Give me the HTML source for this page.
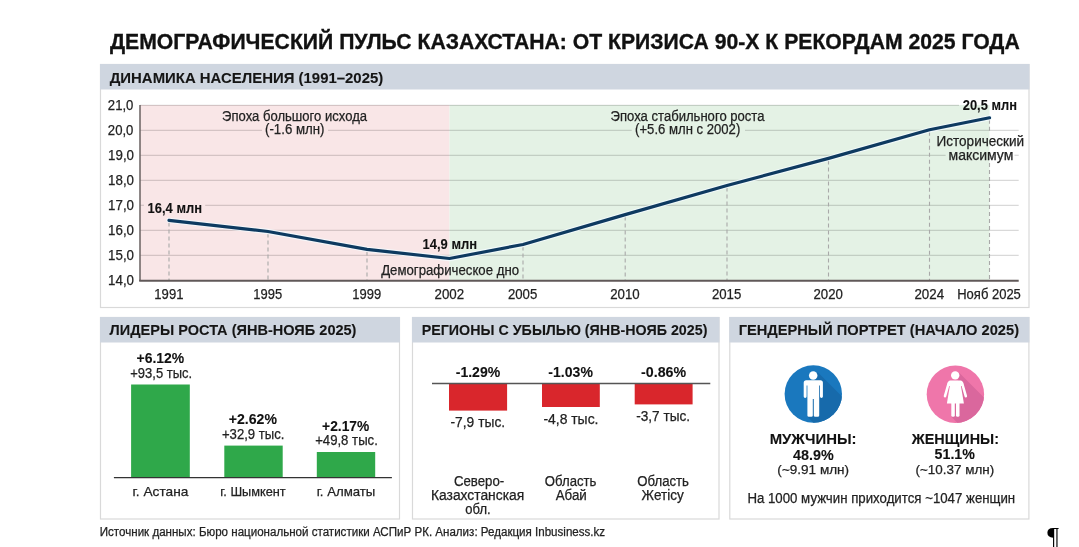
<!DOCTYPE html>
<html><head><meta charset="utf-8"><style>
html,body{margin:0;padding:0;background:#fff;}
body{width:1079px;height:547px;overflow:hidden;}
svg{display:block;filter:blur(0.4px);font-family:"Liberation Sans",sans-serif;}
</style></head><body>
<svg width="1079" height="547" viewBox="0 0 1079 547">
<rect width="1079" height="547" fill="#fff"/>
<rect x="100.5" y="64.5" width="928.5" height="243" fill="#fff" stroke="#d9d9d9" stroke-width="1.2"/>
<rect x="100" y="64" width="929.5" height="25.5" fill="#cfd6e0"/>
<rect x="100.5" y="317.5" width="299" height="201.5" fill="#fff" stroke="#d9d9d9" stroke-width="1.2"/>
<rect x="100" y="317" width="300" height="25.5" fill="#cfd6e0"/>
<rect x="412.5" y="317.5" width="306.5" height="201.5" fill="#fff" stroke="#d9d9d9" stroke-width="1.2"/>
<rect x="412" y="317" width="307.5" height="25.5" fill="#cfd6e0"/>
<rect x="729.8" y="317.5" width="299.10000000000014" height="201.5" fill="#fff" stroke="#d9d9d9" stroke-width="1.2"/>
<rect x="729.3" y="317" width="300.10000000000014" height="25.5" fill="#cfd6e0"/>
<rect x="140" y="105" width="309.5" height="175" fill="#f9e6e7"/>
<rect x="449.5" y="105" width="540.0" height="175" fill="#e4f2e5"/>
<line x1="140" y1="105.3" x2="959" y2="105.3" stroke="#000" stroke-opacity="0.15" stroke-width="1.3"/>
<line x1="140" y1="130.3" x2="262" y2="130.3" stroke="#000" stroke-opacity="0.15" stroke-width="1.3"/>
<line x1="328" y1="130.3" x2="631.7" y2="130.3" stroke="#000" stroke-opacity="0.15" stroke-width="1.3"/>
<line x1="745" y1="130.3" x2="1018.7" y2="130.3" stroke="#000" stroke-opacity="0.15" stroke-width="1.3"/>
<line x1="140" y1="155.3" x2="945.6" y2="155.3" stroke="#000" stroke-opacity="0.15" stroke-width="1.3"/>
<line x1="1014.5" y1="155.3" x2="1018.7" y2="155.3" stroke="#000" stroke-opacity="0.15" stroke-width="1.3"/>
<line x1="140" y1="180.3" x2="1018.7" y2="180.3" stroke="#000" stroke-opacity="0.15" stroke-width="1.3"/>
<line x1="140" y1="205.3" x2="144" y2="205.3" stroke="#000" stroke-opacity="0.15" stroke-width="1.3"/>
<line x1="205.2" y1="205.3" x2="1018.7" y2="205.3" stroke="#000" stroke-opacity="0.15" stroke-width="1.3"/>
<line x1="140" y1="230.3" x2="1018.7" y2="230.3" stroke="#000" stroke-opacity="0.15" stroke-width="1.3"/>
<line x1="140" y1="255.3" x2="1018.7" y2="255.3" stroke="#000" stroke-opacity="0.15" stroke-width="1.3"/>
<line x1="169" y1="222.4" x2="169" y2="280" stroke="#a9a9a9" stroke-width="1.1" stroke-dasharray="4,3"/>
<line x1="268" y1="233.5" x2="268" y2="280" stroke="#a9a9a9" stroke-width="1.1" stroke-dasharray="4,3"/>
<line x1="367" y1="251.4" x2="367" y2="280" stroke="#a9a9a9" stroke-width="1.1" stroke-dasharray="4,3"/>
<line x1="523" y1="246.5" x2="523" y2="280" stroke="#a9a9a9" stroke-width="1.1" stroke-dasharray="4,3"/>
<line x1="625.2" y1="216.6" x2="625.2" y2="280" stroke="#a9a9a9" stroke-width="1.1" stroke-dasharray="4,3"/>
<line x1="727" y1="187.5" x2="727" y2="280" stroke="#a9a9a9" stroke-width="1.1" stroke-dasharray="4,3"/>
<line x1="828.5" y1="160.4" x2="828.5" y2="280" stroke="#a9a9a9" stroke-width="1.1" stroke-dasharray="4,3"/>
<line x1="929.5" y1="131.8" x2="929.5" y2="280" stroke="#a9a9a9" stroke-width="1.1" stroke-dasharray="4,3"/>
<line x1="989.5" y1="119.8" x2="989.5" y2="133" stroke="#a9a9a9" stroke-width="1.1" stroke-dasharray="4,3"/>
<line x1="989.5" y1="163" x2="989.5" y2="280" stroke="#a9a9a9" stroke-width="1.1" stroke-dasharray="4,3"/>
<line x1="140" y1="105" x2="140" y2="281" stroke="#686060" stroke-width="1.5"/>
<line x1="139.2" y1="280.8" x2="1018.7" y2="280.8" stroke="#605858" stroke-width="2"/>
<polyline points="169,220.4 268,231.5 367,249.4 449.5,258.5 523,244.5 625.2,214.6 727,185.5 828.5,158.4 929.5,129.8 989.5,117.8" fill="none" stroke="#f4fbff" stroke-opacity="0.8" stroke-width="5.4" stroke-linejoin="round" stroke-linecap="round"/>
<polyline points="169,220.4 268,231.5 367,249.4 449.5,258.5 523,244.5 625.2,214.6 727,185.5 828.5,158.4 929.5,129.8 989.5,117.8" fill="none" stroke="#0e3a60" stroke-width="3.2" stroke-linejoin="round" stroke-linecap="round"/>
<text id="t0" x="109.96" y="49.00" font-size="22.67" font-weight="bold" fill="#111" stroke="#111" stroke-width="0.35" textLength="909.80" lengthAdjust="spacingAndGlyphs">ДЕМОГРАФИЧЕСКИЙ ПУЛЬС КАЗАХСТАНА: ОТ КРИЗИСА 90-Х К РЕКОРДАМ 2025 ГОДА</text>
<text id="t1" x="109.72" y="82.80" font-size="15.55" font-weight="bold" fill="#151515" stroke="#151515" stroke-width="0.1" textLength="273.50" lengthAdjust="spacingAndGlyphs">ДИНАМИКА НАСЕЛЕНИЯ (1991–2025)</text>
<text id="t2" x="107.87" y="110.30" font-size="13.95" font-weight="normal" fill="#222" stroke="#222" stroke-width="0.25" textLength="25.54" lengthAdjust="spacingAndGlyphs">21,0</text>
<text id="t3" x="107.87" y="135.30" font-size="13.95" font-weight="normal" fill="#222" stroke="#222" stroke-width="0.25" textLength="25.54" lengthAdjust="spacingAndGlyphs">20,0</text>
<text id="t4" x="108.08" y="160.30" font-size="13.95" font-weight="normal" fill="#222" stroke="#222" stroke-width="0.25" textLength="25.91" lengthAdjust="spacingAndGlyphs">19,0</text>
<text id="t5" x="108.08" y="185.30" font-size="13.95" font-weight="normal" fill="#222" stroke="#222" stroke-width="0.25" textLength="25.91" lengthAdjust="spacingAndGlyphs">18,0</text>
<text id="t6" x="108.08" y="210.30" font-size="13.95" font-weight="normal" fill="#222" stroke="#222" stroke-width="0.25" textLength="25.91" lengthAdjust="spacingAndGlyphs">17,0</text>
<text id="t7" x="108.08" y="235.30" font-size="13.95" font-weight="normal" fill="#222" stroke="#222" stroke-width="0.25" textLength="25.91" lengthAdjust="spacingAndGlyphs">16,0</text>
<text id="t8" x="108.08" y="260.30" font-size="13.95" font-weight="normal" fill="#222" stroke="#222" stroke-width="0.25" textLength="25.91" lengthAdjust="spacingAndGlyphs">15,0</text>
<text id="t9" x="108.08" y="285.30" font-size="13.95" font-weight="normal" fill="#222" stroke="#222" stroke-width="0.25" textLength="25.91" lengthAdjust="spacingAndGlyphs">14,0</text>
<text id="t10" x="154.36" y="298.80" font-size="14.39" font-weight="normal" fill="#222" stroke="#222" stroke-width="0.25" textLength="29.05" lengthAdjust="spacingAndGlyphs">1991</text>
<text id="t11" x="253.36" y="298.80" font-size="14.39" font-weight="normal" fill="#222" stroke="#222" stroke-width="0.25" textLength="28.84" lengthAdjust="spacingAndGlyphs">1995</text>
<text id="t12" x="352.36" y="298.80" font-size="14.39" font-weight="normal" fill="#222" stroke="#222" stroke-width="0.25" textLength="28.83" lengthAdjust="spacingAndGlyphs">1999</text>
<text id="t13" x="434.55" y="298.80" font-size="14.39" font-weight="normal" fill="#222" stroke="#222" stroke-width="0.25" textLength="29.62" lengthAdjust="spacingAndGlyphs">2002</text>
<text id="t14" x="507.94" y="298.80" font-size="14.39" font-weight="normal" fill="#222" stroke="#222" stroke-width="0.25" textLength="29.36" lengthAdjust="spacingAndGlyphs">2005</text>
<text id="t15" x="610.23" y="298.80" font-size="14.39" font-weight="normal" fill="#222" stroke="#222" stroke-width="0.25" textLength="29.53" lengthAdjust="spacingAndGlyphs">2010</text>
<text id="t16" x="711.94" y="298.80" font-size="14.39" font-weight="normal" fill="#222" stroke="#222" stroke-width="0.25" textLength="29.36" lengthAdjust="spacingAndGlyphs">2015</text>
<text id="t17" x="813.47" y="298.80" font-size="14.39" font-weight="normal" fill="#222" stroke="#222" stroke-width="0.25" textLength="29.37" lengthAdjust="spacingAndGlyphs">2020</text>
<text id="t18" x="914.45" y="298.80" font-size="14.39" font-weight="normal" fill="#222" stroke="#222" stroke-width="0.25" textLength="29.71" lengthAdjust="spacingAndGlyphs">2024</text>
<text id="t19" x="957.23" y="298.80" font-size="14.39" font-weight="normal" fill="#222" stroke="#222" stroke-width="0.25" textLength="63.64" lengthAdjust="spacingAndGlyphs">Нояб 2025</text>
<text id="t20" x="147.58" y="212.80" font-size="14.83" font-weight="bold" fill="#111" stroke="#111" stroke-width="0.1" textLength="54.49" lengthAdjust="spacingAndGlyphs">16,4 млн</text>
<text id="t21" x="422.50" y="248.50" font-size="14.54" font-weight="bold" fill="#111" stroke="#111" stroke-width="0.1" textLength="54.63" lengthAdjust="spacingAndGlyphs">14,9 млн</text>
<text id="t22" x="962.80" y="110.00" font-size="14.54" font-weight="bold" fill="#111" stroke="#111" stroke-width="0.1" textLength="54.14" lengthAdjust="spacingAndGlyphs">20,5 млн</text>
<text id="t23" x="222.08" y="120.50" font-size="14.24" font-weight="normal" fill="#222" stroke="#222" stroke-width="0.25" textLength="145.02" lengthAdjust="spacingAndGlyphs">Эпоха большого исхода</text>
<text id="t24" x="265.06" y="134.30" font-size="14.24" font-weight="normal" fill="#222" stroke="#222" stroke-width="0.25" textLength="59.47" lengthAdjust="spacingAndGlyphs">(-1.6 млн)</text>
<text id="t25" x="610.62" y="120.50" font-size="14.24" font-weight="normal" fill="#222" stroke="#222" stroke-width="0.25" textLength="153.87" lengthAdjust="spacingAndGlyphs">Эпоха стабильного роста</text>
<text id="t26" x="635.07" y="134.30" font-size="14.24" font-weight="normal" fill="#222" stroke="#222" stroke-width="0.25" textLength="105.20" lengthAdjust="spacingAndGlyphs">(+5.6 млн с 2002)</text>
<text id="t27" x="936.50" y="145.60" font-size="14.24" font-weight="normal" fill="#222" stroke="#222" stroke-width="0.25" textLength="87.67" lengthAdjust="spacingAndGlyphs">Исторический</text>
<text id="t28" x="948.51" y="159.70" font-size="14.24" font-weight="normal" fill="#222" stroke="#222" stroke-width="0.25" textLength="64.87" lengthAdjust="spacingAndGlyphs">максимум</text>
<text id="t29" x="381.16" y="274.50" font-size="14.24" font-weight="normal" fill="#222" stroke="#222" stroke-width="0.25" textLength="137.88" lengthAdjust="spacingAndGlyphs">Демографическое дно</text>
<text id="t30" x="109.57" y="335.30" font-size="15.26" font-weight="bold" fill="#151515" stroke="#151515" stroke-width="0.1" textLength="246.91" lengthAdjust="spacingAndGlyphs">ЛИДЕРЫ РОСТА (ЯНВ-НОЯБ 2025)</text>
<text id="t31" x="421.72" y="335.30" font-size="15.26" font-weight="bold" fill="#151515" stroke="#151515" stroke-width="0.1" textLength="285.71" lengthAdjust="spacingAndGlyphs">РЕГИОНЫ С УБЫЛЬЮ (ЯНВ-НОЯБ 2025)</text>
<text id="t32" x="738.64" y="335.30" font-size="15.26" font-weight="bold" fill="#151515" stroke="#151515" stroke-width="0.1" textLength="280.43" lengthAdjust="spacingAndGlyphs">ГЕНДЕРНЫЙ ПОРТРЕТ (НАЧАЛО 2025)</text>
<rect x="131.1" y="384.5" width="58.70000000000002" height="92.80000000000001" fill="#2fa84a"/>
<rect x="224.3" y="445.6" width="58.39999999999998" height="31.69999999999999" fill="#2fa84a"/>
<rect x="316.8" y="452" width="58.39999999999998" height="25.30000000000001" fill="#2fa84a"/>
<line x1="113.9" y1="477.6" x2="391.9" y2="477.6" stroke="#333" stroke-width="1.4"/>
<text id="t33" x="136.49" y="363.40" font-size="15.12" font-weight="bold" fill="#111" stroke="#111" stroke-width="0.1" textLength="47.74" lengthAdjust="spacingAndGlyphs">+6.12%</text>
<text id="t34" x="130.28" y="377.60" font-size="13.95" font-weight="normal" fill="#222" stroke="#222" stroke-width="0.25" textLength="61.80" lengthAdjust="spacingAndGlyphs">+93,5 тыс.</text>
<text id="t35" x="228.78" y="424.30" font-size="15.12" font-weight="bold" fill="#111" stroke="#111" stroke-width="0.1" textLength="48.14" lengthAdjust="spacingAndGlyphs">+2.62%</text>
<text id="t36" x="221.91" y="439.00" font-size="13.95" font-weight="normal" fill="#222" stroke="#222" stroke-width="0.25" textLength="62.58" lengthAdjust="spacingAndGlyphs">+32,9 тыс.</text>
<text id="t37" x="322.12" y="430.80" font-size="15.12" font-weight="bold" fill="#111" stroke="#111" stroke-width="0.1" textLength="47.13" lengthAdjust="spacingAndGlyphs">+2.17%</text>
<text id="t38" x="315.13" y="445.10" font-size="13.95" font-weight="normal" fill="#222" stroke="#222" stroke-width="0.25" textLength="62.72" lengthAdjust="spacingAndGlyphs">+49,8 тыс.</text>
<text id="t39" x="132.53" y="496.00" font-size="13.37" font-weight="normal" fill="#222" stroke="#222" stroke-width="0.25" textLength="55.82" lengthAdjust="spacingAndGlyphs">г. Астана</text>
<text id="t40" x="220.21" y="496.00" font-size="13.37" font-weight="normal" fill="#222" stroke="#222" stroke-width="0.25" textLength="65.48" lengthAdjust="spacingAndGlyphs">г. Шымкент</text>
<text id="t41" x="316.64" y="496.00" font-size="13.37" font-weight="normal" fill="#222" stroke="#222" stroke-width="0.25" textLength="58.72" lengthAdjust="spacingAndGlyphs">г. Алматы</text>
<rect x="449.0" y="384" width="58.10000000000002" height="26.600000000000023" fill="#d9262c"/>
<rect x="542.0" y="384" width="57.799999999999955" height="23.0" fill="#d9262c"/>
<rect x="634.7" y="384" width="57.89999999999998" height="20.399999999999977" fill="#d9262c"/>
<line x1="432" y1="383.5" x2="710.3" y2="383.5" stroke="#555" stroke-width="1.3"/>
<text id="t42" x="455.72" y="376.60" font-size="15.41" font-weight="bold" fill="#111" stroke="#111" stroke-width="0.1" textLength="44.52" lengthAdjust="spacingAndGlyphs">-1.29%</text>
<text id="t43" x="548.36" y="376.60" font-size="15.41" font-weight="bold" fill="#111" stroke="#111" stroke-width="0.1" textLength="44.56" lengthAdjust="spacingAndGlyphs">-1.03%</text>
<text id="t44" x="641.07" y="376.60" font-size="15.41" font-weight="bold" fill="#111" stroke="#111" stroke-width="0.1" textLength="45.07" lengthAdjust="spacingAndGlyphs">-0.86%</text>
<text id="t45" x="450.52" y="427.30" font-size="14.39" font-weight="normal" fill="#222" stroke="#222" stroke-width="0.25" textLength="54.61" lengthAdjust="spacingAndGlyphs">-7,9 тыс.</text>
<text id="t46" x="543.40" y="423.90" font-size="14.39" font-weight="normal" fill="#222" stroke="#222" stroke-width="0.25" textLength="55.08" lengthAdjust="spacingAndGlyphs">-4,8 тыс.</text>
<text id="t47" x="636.22" y="420.50" font-size="14.39" font-weight="normal" fill="#222" stroke="#222" stroke-width="0.25" textLength="53.92" lengthAdjust="spacingAndGlyphs">-3,7 тыс.</text>
<text id="t48" x="453.93" y="485.90" font-size="13.81" font-weight="normal" fill="#222" stroke="#222" stroke-width="0.25" textLength="50.34" lengthAdjust="spacingAndGlyphs">Северо-</text>
<text id="t49" x="430.94" y="499.80" font-size="13.81" font-weight="normal" fill="#222" stroke="#222" stroke-width="0.25" textLength="93.29" lengthAdjust="spacingAndGlyphs">Казахстанская</text>
<text id="t50" x="465.35" y="513.70" font-size="13.81" font-weight="normal" fill="#222" stroke="#222" stroke-width="0.25" textLength="25.28" lengthAdjust="spacingAndGlyphs">обл.</text>
<text id="t51" x="544.87" y="485.90" font-size="13.81" font-weight="normal" fill="#222" stroke="#222" stroke-width="0.25" textLength="51.59" lengthAdjust="spacingAndGlyphs">Область</text>
<text id="t52" x="555.64" y="499.80" font-size="13.81" font-weight="normal" fill="#222" stroke="#222" stroke-width="0.25" textLength="31.15" lengthAdjust="spacingAndGlyphs">Абай</text>
<text id="t53" x="637.27" y="485.90" font-size="13.81" font-weight="normal" fill="#222" stroke="#222" stroke-width="0.25" textLength="51.71" lengthAdjust="spacingAndGlyphs">Область</text>
<text id="t54" x="641.60" y="499.80" font-size="13.81" font-weight="normal" fill="#222" stroke="#222" stroke-width="0.25" textLength="42.14" lengthAdjust="spacingAndGlyphs">Жетісу</text>
<defs><clipPath id="cm"><circle cx="813.3" cy="394.0" r="28.7"/></clipPath><clipPath id="cf"><circle cx="955.4" cy="394.2" r="28.7"/></clipPath></defs>
<circle cx="813.3" cy="394.0" r="28.7" fill="#1a78be"/>
<polygon clip-path="url(#cm)" points="817.5,372 867,421.5 857,466.8 807.5,416.8" fill="#176aab"/>
<circle cx="955.4" cy="394.2" r="28.7" fill="#ef76aa"/>
<polygon clip-path="url(#cf)" points="959.5,373 1009,422.5 999,466.8 951.5,416.8" fill="#da679d"/>
<g fill="#fff"><circle cx="813.2" cy="375.5" r="4.25"/><path d="M806.2,380.3 H820.4 Q822.9,380.3 822.9,382.8 V396.5 Q822.9,397.9 821.45,397.9 Q820,397.9 820,396.5 V385.5 H819.2 V415.4 Q819.2,416.8 817.8,416.8 H815.2 Q813.8,416.8 813.8,415.4 V399 H812.8 V415.4 Q812.8,416.8 811.4,416.8 H808.8 Q807.4,416.8 807.4,415.4 V385.5 H806.6 V396.5 Q806.6,397.9 805.15,397.9 Q803.7,397.9 803.7,396.5 V382.8 Q803.7,380.3 806.2,380.3 Z"/></g>
<g fill="#fff"><circle cx="955.2" cy="375.4" r="4.2"/><path d="M950.2,380.5 H960.6 Q962.4,380.5 963.0,382.4 L963.3,386 H947.5 L947.8,382.4 Q948.4,380.5 950.2,380.5 Z"/><path d="M950.0,385 H960.8 L963.9,403.6 H946.9 Z"/><rect x="951.3" y="402" width="3.5" height="14.8" rx="1.4"/><rect x="956.0" y="402" width="3.5" height="14.8" rx="1.4"/></g><g stroke="#fff" stroke-width="2.6" stroke-linecap="round"><line x1="948.6" y1="383.5" x2="945.0" y2="396.2"/><line x1="962.2" y1="383.5" x2="965.8" y2="396.2"/></g>
<text id="t55" x="769.68" y="444.10" font-size="15.12" font-weight="bold" fill="#111" stroke="#111" stroke-width="0.1" textLength="86.87" lengthAdjust="spacingAndGlyphs">МУЖЧИНЫ:</text>
<text id="t56" x="793.03" y="459.50" font-size="14.24" font-weight="bold" fill="#111" stroke="#111" stroke-width="0.1" textLength="40.71" lengthAdjust="spacingAndGlyphs">48.9%</text>
<text id="t57" x="777.39" y="474.00" font-size="13.52" font-weight="normal" fill="#222" stroke="#222" stroke-width="0.25" textLength="71.74" lengthAdjust="spacingAndGlyphs">(~9.91 млн)</text>
<text id="t58" x="911.71" y="444.10" font-size="15.12" font-weight="bold" fill="#111" stroke="#111" stroke-width="0.1" textLength="87.29" lengthAdjust="spacingAndGlyphs">ЖЕНЩИНЫ:</text>
<text id="t59" x="934.61" y="459.30" font-size="14.24" font-weight="bold" fill="#111" stroke="#111" stroke-width="0.1" textLength="40.30" lengthAdjust="spacingAndGlyphs">51.1%</text>
<text id="t60" x="915.51" y="474.00" font-size="13.52" font-weight="normal" fill="#222" stroke="#222" stroke-width="0.25" textLength="78.63" lengthAdjust="spacingAndGlyphs">(~10.37 млн)</text>
<text id="t61" x="747.39" y="502.90" font-size="13.95" font-weight="normal" fill="#222" stroke="#222" stroke-width="0.25" textLength="267.79" lengthAdjust="spacingAndGlyphs">На 1000 мужчин приходится ~1047 женщин</text>
<text id="t62" x="99.78" y="536.40" font-size="12.21" font-weight="normal" fill="#222" stroke="#222" stroke-width="0.25" textLength="505.36" lengthAdjust="spacingAndGlyphs">Источник данных: Бюро национальной статистики АСПиР РК. Анализ: Редакция Inbusiness.kz</text>
<text x="1047.2" y="545.0" font-family="Liberation Serif" font-size="26" fill="#000">¶</text>
</svg>
</body></html>
